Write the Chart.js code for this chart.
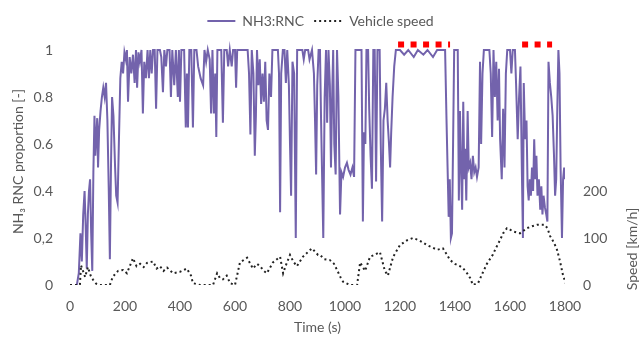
<!DOCTYPE html>
<html><head><meta charset="utf-8">
<script src="https://cdn.jsdelivr.net/npm/chart.js@4"></script>
<style>html,body{margin:0;padding:0;background:#fff;overflow:hidden}</style>
</head><body>
<canvas id="c" width="641" height="341" style="width:641px;height:341px;display:block"></canvas>
<script>
// ---- data ----
const nh3Time = [
25,32,38,43,48,53,57,61,65,69,73,77,81,85,89,92,95,99,102,106,111,116,121,126,131,136,141,145,149,153,158,164,168,173,178,183,188,193,198,203,207,
211,217,223,229,235,240,244,249,254,260,265,270,276,282,287,292,297,302,308,313,318,327,332,338,343,349,354,362,367,372,379,385,392,396,400,405,415,421,425,429,434,441,447,452,460,466,475,484,489,495,501,508,513,518,523,528,532,536,545,550,556,561,570,575,581,588,593,600,
604,608,646,651,656,661,667,672,676,680,685,690,695,700,705,710,715,720,725,731,736,756,760,764,768,774,780,785,790,796,800,804,809,815,821,826,845,850,855,866,871,880,887,891,895,899,904,909,913,917,921,926,931,
935,940,945,949,953,957,961,966,971,976,982,987,993,1000,1007,1013,1020,1027,1033,1038,1060,1065,1069,1074,1078,1084,1088,1093,1098,1103,1108,1113,1118,1126,1130,1135,1140,1145,1150,1155,1160,1164,1168,1173,1179,1185,
1200,1215,1230,1250,1265,1285,1300,1320,1335,1364,1369,1373,1377,1381,1385,1389,1393,1397,1410,1414,1418,1422,1426,1430,1434,1437,1441,1446,1450,1455,1460,1465,1470,1475,1480,1486,1491,1495,1500,1505,1525,1530,1535,1540,1545,1550,1555,1560,1564,
1570,1575,1580,1585,1590,1600,1605,1610,1618,1622,1628,1633,1638,1643,1647,1650,1655,1660,1664,1668,1672,1676,1680,1684,1688,1692,1696,1700,1705,1710,1714,1718,1722,1727,1732,1736,1740,1745,1750,1755,1760,1764,1768,1772,1776,1780,1784,1789,1793,1797,1800
];
const nh3Value = [
0.00,0.05,0.22,0.10,0.30,0.40,0.25,0.07,0.30,0.40,0.45,0.22,0.06,0.48,0.72,0.55,0.62,0.71,0.50,0.66,0.74,0.80,0.84,0.80,0.86,0.70,0.40,0.11,0.50,0.80,0.72,0.50,0.38,0.35,0.62,0.88,0.95,0.90,0.99,0.96,1.00,
0.78,0.97,0.90,0.98,0.86,1.00,0.84,0.99,0.95,1.00,0.73,0.95,0.88,1.00,0.88,1.00,0.90,1.00,1.00,0.75,1.00,1.00,0.97,0.82,1.00,0.93,1.00,1.00,0.80,1.00,0.85,1.00,0.80,1.00,0.78,1.00,1.00,0.67,0.90,0.67,1.00,1.00,0.67,1.00,1.00,0.93,0.88,0.85,1.00,0.95,1.00,0.96,0.73,1.00,0.73,0.90,0.63,1.00,1.00,1.00,0.69,1.00,1.00,0.93,1.00,0.93,1.00,1.00,
0.84,1.00,1.00,0.90,0.64,1.00,0.90,0.55,0.72,1.00,0.85,0.96,0.77,0.90,0.78,0.95,0.70,0.66,0.90,0.80,1.00,1.00,0.90,0.31,0.90,1.00,1.00,0.86,1.00,0.85,0.60,0.38,0.95,0.90,0.20,1.00,1.00,0.96,1.00,1.00,0.96,1.00,0.90,0.70,0.47,0.85,1.00,1.00,0.70,0.45,0.20,0.80,1.00,
0.69,1.00,0.85,0.50,0.79,1.00,0.60,0.47,1.00,0.80,0.30,0.48,0.46,0.50,0.52,0.49,0.47,0.50,0.46,1.00,1.00,0.27,0.65,0.60,1.00,1.00,0.75,0.55,0.41,1.00,1.00,0.44,1.00,1.00,0.60,0.27,0.70,0.75,0.86,0.70,0.60,0.50,0.65,0.80,0.93,1.00,
1.00,0.98,1.00,0.97,1.00,0.98,1.00,0.97,1.00,1.00,0.71,0.50,0.29,0.45,0.20,0.22,0.60,1.00,1.00,0.36,0.74,0.50,0.32,0.78,0.45,0.58,0.36,0.74,0.50,0.52,0.45,0.55,0.48,0.50,0.46,0.50,0.95,0.60,0.90,1.00,1.00,0.90,0.63,1.00,0.80,0.95,0.70,0.92,0.62,
0.45,0.75,0.50,0.90,1.00,1.00,0.90,1.00,1.00,0.86,0.62,0.80,0.93,0.50,0.20,0.86,0.62,0.70,0.42,0.36,0.45,0.38,0.50,0.40,0.62,0.45,0.55,0.38,0.45,0.32,0.42,0.30,0.38,0.33,0.30,0.27,0.95,0.86,0.80,0.72,0.55,0.38,0.45,0.75,1.00,0.90,0.50,0.20,0.45,0.50,0.45
];
const speedTime = [0,36,40,55,65,75,84,95,109,145,156,175,193,207,229,242,255,268,280,302,315,327,340,353,375,400,425,440,447,473,520,535,545,556,570,582,600,618,644,665,680,691,705,716,738,764,775,787,800,812,825,847,865,880,902,909,925,945,960,971,985,993,1018,1044,1055,1073,1085,1091,1110,1127,1145,1156,1175,1200,1225,1247,1270,1298,1335,1356,1370,1382,1400,1418,1430,1444,1455,1465,1484,1500,1516,1538,1550,1564,1575,1589,1600,1611,1636,1662,1680,1698,1727,1737,1745,1760,1771,1782,1793,1805];
const speedValue = [0,0,42,17,38,20,11,3,0,0,18,30,32,25,57,40,45,38,47,50,35,40,30,37,25,28,35,20,4,0,0,25,15,12,20,4,0,48,58,35,45,40,30,25,48,60,25,45,64,50,40,60,70,78,64,64,55,53,45,32,15,7,0,0,48,30,50,60,65,70,30,20,60,85,95,100,95,85,75,78,65,53,45,40,35,25,15,0,4,25,45,65,80,96,110,121,118,114,110,121,125,128,128,120,105,90,75,50,20,0];
// highlighted periods (red dashes above the curve)
const markerStart = [1193, 1644];
const markerEnd = [1382, 1753];
const markerLevel = 1.023;
// tick values and labels
const xTicks = [0,200,400,600,800,1000,1200,1400,1600,1800];
const xTickLabels = ['0','200','400','600','800','1000','1200','1400','1600','1800'];
const leftTicks = [0,0.2,0.4,0.6,0.8,1];
const leftTickLabels = ['0','0,2','0.4','0.6','0.8','1'];
const rightTicks = [0,100,200];
const rightTickLabels = ['0','100','200'];
const seriesNames = ['NH3:RNC','Vehicle speed'];

// ---- chart ----
const TXT = '#595959';
const FONT = 'Lato';
const topPad = 4, legendH = 34, plotBottom = 285;
const plotTop = topPad + legendH;
const leftMax = (plotBottom - plotTop) / 235;   // unit 1 spans 235 px
const rightMax = leftMax * 500;

const markerData = [];
markerStart.forEach((s, i) => {
  if (i > 0) markerData.push({x: (markerEnd[i-1] + s) / 2, y: null});
  markerData.push({x: s, y: markerLevel});
  markerData.push({x: markerEnd[i], y: markerLevel});
});

const rightTitle = {
  id: 'rightTitle',
  afterDraw(chart) {
    const ctx = chart.ctx;
    ctx.save();
    ctx.fillStyle = TXT;
    ctx.font = '14px ' + FONT;
    ctx.textAlign = 'center';
    ctx.textBaseline = 'middle';
    ctx.translate(632, 249);
    ctx.rotate(-Math.PI / 2);
    ctx.fillText('Speed [km/h]', 0, 0);
    ctx.restore();
  }
};

const tickLabel = (vals, labels) => (v) => {
  const i = vals.findIndex(t => Math.abs(t - v) < 1e-9);
  return i >= 0 ? labels[i] : '';
};

new Chart(document.getElementById('c'), {
  type: 'line',
  data: {
    datasets: [
      {
        label: seriesNames[0],
        data: nh3Time.map((t, i) => ({x: t, y: nh3Value[i]})),
        borderColor: '#7363ac',
        backgroundColor: '#7363ac',
        borderWidth: 2,
        pointRadius: 0,
        tension: 0,
        yAxisID: 'y',
        order: 2
      },
      {
        label: seriesNames[1],
        data: speedTime.map((t, i) => ({x: t, y: speedValue[i]})),
        borderColor: '#222222',
        backgroundColor: '#222222',
        borderWidth: 2,
        borderDash: [2, 3],
        pointRadius: 0,
        tension: 0,
        yAxisID: 'y2',
        order: 1
      },
      {
        label: 'markers',
        data: markerData,
        borderColor: '#ff0000',
        borderWidth: 6,
        borderDash: [6, 6.5],
        borderCapStyle: 'butt',
        pointRadius: 0,
        spanGaps: false,
        clip: false,
        yAxisID: 'y',
        order: 0
      }
    ]
  },
  options: {
    responsive: false,
    animation: false,
    devicePixelRatio: 1,
    layout: {padding: {top: topPad, left: 0, right: 0, bottom: 0}},
    plugins: {
      tooltip: {enabled: false},
      legend: {
        display: true,
        position: 'top',
        labels: {
          filter: (item) => item.text !== 'markers',
          sort: (a, b) => a.datasetIndex - b.datasetIndex,
          generateLabels: (chart) => {
            const items = Chart.defaults.plugins.legend.labels.generateLabels(chart);
            items.forEach(it => {
              const ds = chart.data.datasets[it.datasetIndex];
              it.lineDash = ds.borderDash || [];
              it.lineWidth = ds.borderWidth;
              it.strokeStyle = ds.borderColor;
            });
            return items;
          },
          usePointStyle: true,
          pointStyle: 'line',
          pointStyleWidth: 28,
          padding: 10,
          color: TXT,
          font: {family: FONT, size: 14}
        }
      }
    },
    scales: {
      x: {
        type: 'linear',
        min: 0, max: 1800,
        afterBuildTicks: (s) => { s.ticks = xTicks.map(v => ({value: v})); },
        afterFit: (s) => { s.height = 341 - plotBottom; },
        grid: {display: false, drawTicks: false},
        border: {display: false},
        ticks: {color: TXT, font: {family: FONT, size: 14}, padding: 13, maxRotation: 0, autoSkip: false,
          callback: tickLabel(xTicks, xTickLabels)},
        title: {display: true, text: 'Time (s)', color: TXT, font: {family: FONT, size: 14}, padding: {top: 0, bottom: 5}}
      },
      y: {
        position: 'left',
        min: 0, max: leftMax,
        afterBuildTicks: (s) => { s.ticks = leftTicks.map(v => ({value: v})); },
        afterFit: (s) => { s.width = 70; },
        grid: {display: false, drawTicks: false},
        border: {display: false},
        ticks: {color: TXT, font: {family: FONT, size: 14}, padding: 17,
          callback: tickLabel(leftTicks, leftTickLabels)},
        title: {display: true, text: 'NH\u2083 RNC proportion [-]', color: TXT, font: {family: FONT, size: 14}, padding: {top: 10, bottom: 0}}
      },
      y2: {
        position: 'right',
        min: 0, max: rightMax,
        afterBuildTicks: (s) => { s.ticks = rightTicks.map(v => ({value: v})); },
        afterFit: (s) => { s.width = 641 - 565; },
        grid: {display: false, drawTicks: false},
        border: {display: false},
        ticks: {color: TXT, font: {family: FONT, size: 14}, padding: 18,
          callback: tickLabel(rightTicks, rightTickLabels)}
      }
    }
  },
  plugins: [rightTitle]
});
</script>
</body></html>
